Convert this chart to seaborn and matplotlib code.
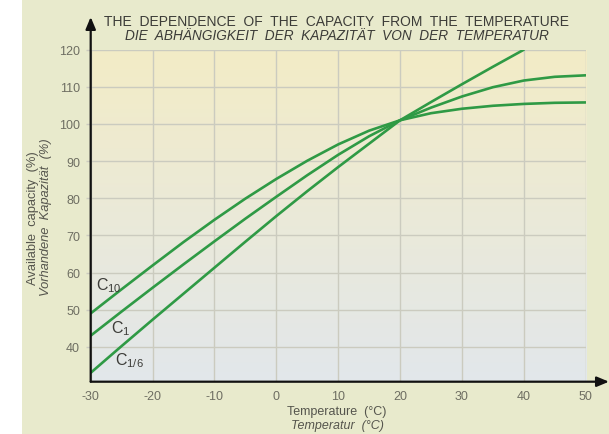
import numpy as np
import pandas as pd
import matplotlib
matplotlib.use("Agg")
import matplotlib.pyplot as plt
from matplotlib.colors import to_rgb
from matplotlib.patches import Rectangle
import seaborn as sns

# ---- data ----
temps = [-30, -25, -20, -15, -10, -5, 0, 5, 10, 15, 20, 25, 30, 35, 40, 45, 50]
cap_c10 = [49, 55.5, 61.9, 68.2, 74.2, 79.9, 85.2, 90.1, 94.5, 98.2, 101, 102.9, 104.1, 104.9, 105.4, 105.7, 105.8]
cap_c1 = [43, 49.5, 55.9, 62.2, 68.4, 74.5, 80.4, 86.2, 91.7, 96.7, 101, 104.4, 107.4, 109.9, 111.7, 112.7, 113.1]
temps_c16 = [-30, -25, -20, -15, -10, -5, 0, 5, 10, 15, 20, 25, 30, 35, 40]
cap_c16 = [33.0, 40.2, 47.3, 54.3, 61.3, 68.3, 75.2, 81.9, 88.4, 94.7, 101, 105.9, 110.7, 115.4, 120]

x_ticks = [-30, -20, -10, 0, 10, 20, 30, 40, 50]
y_ticks = [40, 50, 60, 70, 80, 90, 100, 110, 120]

title_en = "THE  DEPENDENCE  OF  THE  CAPACITY  FROM  THE  TEMPERATURE"
title_de = "DIE  ABHÄNGIGKEIT  DER  KAPAZITÄT  VON  DER  TEMPERATUR"
xlabel_en = "Temperature  (°C)"
xlabel_de = "Temperatur  (°C)"
ylabel_en = "Available  capacity  (%)"
ylabel_de = "Vorhandene  Kapazität  (%)"

df = pd.concat([
    pd.DataFrame({"temp": temps, "cap": cap_c10, "series": "C10"}),
    pd.DataFrame({"temp": temps, "cap": cap_c1, "series": "C1"}),
    pd.DataFrame({"temp": temps_c16, "cap": cap_c16, "series": "C1/6"}),
], ignore_index=True)

# ---- style ----
sns.set_theme(style="whitegrid")
plt.rcParams["font.family"] = ["Liberation Sans", "DejaVu Sans"]
plt.rcParams["axes.unicode_minus"] = False
plt.rcParams["mathtext.fontset"] = "custom"
plt.rcParams["mathtext.rm"] = "Liberation Sans"
plt.rcParams["mathtext.it"] = "Liberation Sans:italic"

bg = "#e8eacc"
green = "#2f9a45"
grid_c = "#cbcbbf"
text_c = "#3c3c38"
tick_c = "#6e6e62"

fig = plt.figure(figsize=(6.09, 4.35), dpi=100, facecolor=bg)
fig.add_artist(Rectangle((0, 0), 22 / 609, 1, transform=fig.transFigure,
                         facecolor="white", edgecolor="none", zorder=-5))

ax = fig.add_axes([90.7 / 609, 1 - 382.7 / 435, 495 / 609, 332 / 435])
ax.set_facecolor("none")

# gradient panel background
top = np.array(to_rgb("#f3ecc6"))
bot = np.array(to_rgb("#e2e7eb"))
t = np.linspace(0, 1, 256)[:, None, None]
img = top * (1 - t) + bot * t
img = np.repeat(img, 2, axis=1)
ax.imshow(img, extent=(0, 1, 0, 1), transform=ax.transAxes, aspect="auto",
          zorder=-1, interpolation="bilinear")

sns.lineplot(data=df, x="temp", y="cap", hue="series", units="series",
             estimator=None, palette=[green, green, green], linewidth=1.9,
             legend=False, ax=ax, zorder=3)

ax.set_xlim(-30, 50)
ax.set_ylim(30.6, 120)
ax.set_xticks(x_ticks)
ax.set_yticks(y_ticks)
ax.set_xticklabels([str(v) for v in x_ticks])
ax.set_yticklabels([str(v) for v in y_ticks])
ax.grid(True, color=grid_c, linewidth=1.0)
ax.set_axisbelow(True)
for s in ax.spines.values():
    s.set_visible(False)
ax.tick_params(axis="y", which="both", left=True, length=3.6, width=1.0,
               color=grid_c, pad=4, labelsize=9, labelcolor=tick_c)
ax.tick_params(axis="x", which="both", bottom=False, length=0, pad=6,
               labelsize=9, labelcolor=tick_c)
ax.set_xlabel("")
ax.set_ylabel("")

# axis arrows
ax.annotate("", xy=(1.047, 0), xytext=(0, 0), xycoords="axes fraction",
            textcoords="axes fraction",
            arrowprops=dict(arrowstyle="-|>,head_length=0.6,head_width=0.25",
                            color="#111111", lw=1.6, shrinkA=0, shrinkB=0),
            annotation_clip=False, zorder=5)
ax.annotate("", xy=(0, 1.0985), xytext=(0, 0), xycoords="axes fraction",
            textcoords="axes fraction",
            arrowprops=dict(arrowstyle="-|>,head_length=0.6,head_width=0.25",
                            color="#111111", lw=1.6, shrinkA=0, shrinkB=0),
            annotation_clip=False, zorder=5)

# curve labels
ax.text(-29.1, 55.6, r"C$_{\mathrm{10}}$", fontsize=11.5, color=text_c, va="baseline", ha="left")
ax.text(-26.7, 44.0, r"C$_{\mathrm{1}}$", fontsize=11.5, color=text_c, va="baseline", ha="left")
ax.text(-26.0, 35.2, r"C$_{\mathrm{1/6}}$", fontsize=11.5, color=text_c, va="baseline", ha="left")

# titles and labels
fig.text(337 / 609, 1 - 21.7 / 435, title_en, ha="center", va="center",
         fontsize=10, color=text_c)
fig.text(337 / 609, 1 - 35.7 / 435, title_de, ha="center", va="center",
         fontsize=9.8, color=text_c, style="italic")
fig.text(337 / 609, 1 - 411.7 / 435, xlabel_en, ha="center", va="center",
         fontsize=9, color="#55554d")
fig.text(337 / 609, 1 - 426.5 / 435, xlabel_de, ha="center", va="center",
         fontsize=9, color="#55554d", style="italic")
fig.text(32.7 / 609, 1 - 218 / 435, ylabel_en, ha="center", va="center",
         rotation=90, fontsize=9.3, color="#55554d")
fig.text(46 / 609, 1 - 217 / 435, ylabel_de, ha="center", va="center",
         rotation=90, fontsize=9.3, color="#55554d", style="italic")

fig.savefig("out.png", dpi=100, facecolor=bg)
